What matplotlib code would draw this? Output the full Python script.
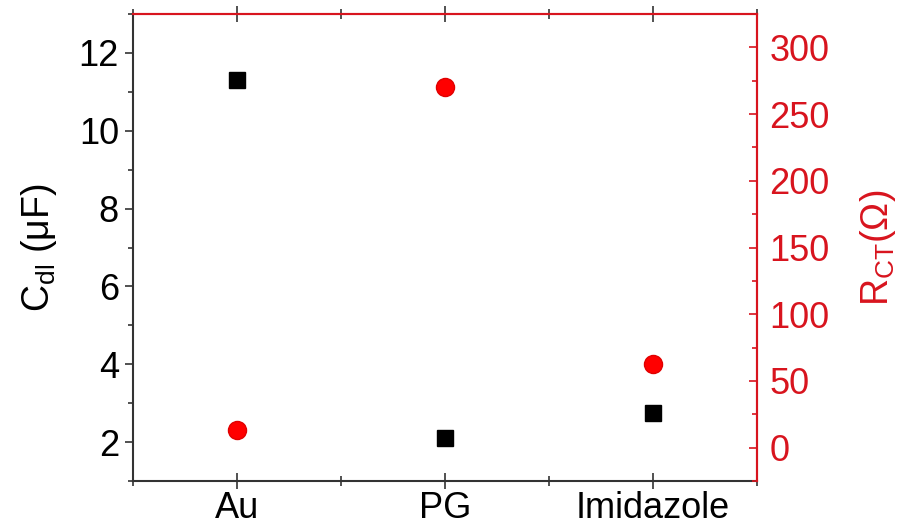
import matplotlib
matplotlib.use("Agg")
import matplotlib.pyplot as plt
from matplotlib.ticker import MultipleLocator

plt.rcParams["font.family"] = ["Liberation Sans", "DejaVu Sans"]
plt.rcParams["mathtext.fontset"] = "custom"
plt.rcParams["mathtext.rm"] = "Liberation Sans"
plt.rcParams["mathtext.it"] = "Liberation Sans"

samples = ["Au", "PG", "Imidazole"]
cdl = [11.3, 2.1, 2.75]      # uF
rct = [13.5, 270.5, 63.0]    # Ohm

red = "#d8141e"
dark = "#333333"

fig = plt.figure(figsize=(9.1, 5.29), dpi=100)
ax = fig.add_axes([0.146, 0.0907, 0.686, 0.8828])
ax2 = ax.twinx()

x = list(range(1, len(samples) + 1))
ax.plot(x, cdl, ls="none", marker="s", ms=12, color="black")
ax2.plot(x, rct, ls="none", marker="o", ms=13, color="#ff0000",
         markeredgecolor="#e00000")

ax.set_xlim(0.5, 3.5)
ax.set_ylim(1, 13)
ax2.set_ylim(-25, 325)

ax.set_xticks(x)
ax.set_xticklabels(samples)
ax.xaxis.set_minor_locator(MultipleLocator(0.5))
ax.yaxis.set_major_locator(MultipleLocator(2))
ax.yaxis.set_minor_locator(MultipleLocator(1))
ax2.yaxis.set_major_locator(MultipleLocator(50))
ax2.yaxis.set_minor_locator(MultipleLocator(25))

fs = 26
ax.tick_params(axis="y", which="both", direction="out", color=dark,
               labelsize=fs, pad=4, width=1.2)
ax.tick_params(axis="y", which="major", length=6)
ax.tick_params(axis="y", which="minor", length=3.5)
# x ticks on both edges, crossing the frame (out at bottom, in at top)
ax.tick_params(axis="x", which="both", top=True, direction="inout",
               color=dark, labelsize=fs, pad=1, width=1.2)
ax.tick_params(axis="x", which="major", length=12)
ax.tick_params(axis="x", which="minor", length=7)
ax2.tick_params(axis="y", which="both", direction="in", color=red,
                labelcolor=red, labelsize=fs, pad=9, width=1.2)
ax2.tick_params(axis="y", which="major", length=6)
ax2.tick_params(axis="y", which="minor", length=3.5)

for s in ["left", "bottom"]:
    ax.spines[s].set_color(dark)
    ax.spines[s].set_linewidth(1.5)
for s in ["top", "right"]:
    ax.spines[s].set_color(red)
    ax.spines[s].set_linewidth(1.5)
ax2.spines["left"].set_visible(False)
ax2.spines["bottom"].set_visible(False)
ax2.spines["right"].set_color(red)
ax2.spines["top"].set_color(red)
ax2.spines["right"].set_linewidth(1.5)
ax2.spines["top"].set_linewidth(1.5)

ax.set_ylabel(r"C$_{\mathrm{dl}}$ (μF)", fontsize=27, labelpad=14)
ax2.set_ylabel(r"R$_{\mathrm{CT}}$(Ω)", fontsize=27, color=red, labelpad=20)

fig.savefig("out.png", dpi=100)
